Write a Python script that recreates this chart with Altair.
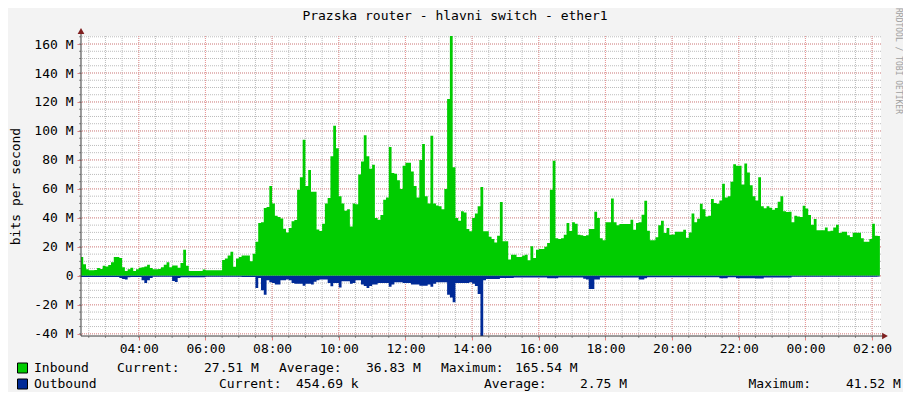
import altair as alt
import pandas as pd

FONT = "DejaVu Sans Mono"

TITLE = "Prazska router - hlavni switch - ether1"
Y_TITLE = "bits per second"
WATERMARK = "RRDTOOL / TOBI OETIKER"

# 5-minute samples starting 02:15, values in Mbit/s
START = "2024-01-01 02:15"
inbound = [
    13, 8, 4.5, 3.8, 3.8, 4, 5.4, 4.7, 7, 6.5, 7.5, 9.3,
    13, 13, 12.3, 6, 3.4, 4.5, 5.6, 3.4, 4.5, 5.6, 6, 6.5,
    7.7, 5.4, 4.5, 4.5, 4.7, 6, 7.7, 9.3, 6, 7.2, 7.2, 5.6,
    8.8, 18, 7, 3.4, 3.4, 3.4, 3.4, 3.4, 4.3, 3.8, 3.8, 3.8,
    3.8, 3.8, 3.8, 11, 12, 14, 16.7, 6.3, 12, 13, 14, 14,
    14, 10, 15.3, 23.6, 36.5, 37, 46.8, 47.5, 62, 50, 41.5, 40.6,
    39.5, 32.5, 30, 33, 37.6, 38.5, 59.5, 68, 94, 62, 73, 58,
    58, 32, 31, 36, 50, 53.7, 82.5, 103.6, 88, 55, 50, 45,
    46, 34, 50, 49.5, 70, 79, 97, 82.5, 74, 76.7, 40, 38.8,
    42, 52.5, 54, 89, 71, 70.5, 66, 60, 76, 78, 78, 72,
    62, 54, 80, 91, 55, 50, 96.7, 50, 48.5, 48, 46, 60,
    122, 165.54, 75, 40, 38, 44.5, 43.8, 32.3, 30.7, 40, 43, 48,
    61.3, 30.7, 30.7, 27, 25.4, 23, 27.7, 51, 23.8, 23.8, 11.2, 14.6,
    14.6, 13, 13, 14, 14.6, 10.7, 20.4, 12.3, 18, 18.5, 18.5, 20,
    22.7, 59.5, 79.5, 26, 25.4, 26, 28.4, 36.5, 31, 37, 36, 28.4,
    28, 27.5, 28, 32.3, 32.3, 44.3, 40, 26, 24.5, 37, 37, 53.3,
    37, 35, 35.8, 35.8, 35.8, 35.8, 38.8, 31.9, 36.5, 37, 42.2, 51.9,
    31.2, 24.5, 24.5, 26.6, 35, 38, 29.6, 33, 28.4, 28.6, 30.5, 30.5,
    30.5, 31.9, 26.3, 30, 43, 37, 39.4, 49.8, 46, 41, 41.5, 53,
    50.3, 49.8, 52, 63.6, 54, 55, 65, 77, 76, 76, 63, 77.5,
    71.4, 62.5, 55, 52, 68, 48, 46.6, 48, 47, 45.7, 46.8, 51.2,
    55, 44.5, 44, 44.3, 37, 41.5, 41, 40.6, 48.4, 46.4, 42, 35.3,
    39.2, 31.4, 31.4, 31.4, 33.3, 30.7, 31.2, 33.3, 35.3, 29.6, 30.5, 30.5,
    28, 26.8, 29.8, 29.8, 29.8, 26, 23.6, 23.6, 25.4, 36, 27.7, 27.51,
]
outbound = [
    -0.8, -0.8, -0.8, -0.8, -0.8, -0.8, -0.8, -0.8, -0.8, -0.8, -0.8, -0.8,
    -0.8, -0.8, -1.5, -2.2, -2.6, -1, -0.8, -0.8, -0.8, -0.8, -3, -5,
    -3, -1.5, -0.6, -0.6, -0.6, -0.6, -0.6, -0.6, -0.6, -3.5, -4.3, -1.5,
    -1, -1, -1, -1, -1, -1, -1, -1, -1, -0.7, -0.7, -0.7,
    -0.7, -0.7, -0.7, -0.7, -0.7, -0.7, -0.7, -0.7, -0.7, -0.7, -0.8, -0.8,
    -0.8, -0.8, -0.8, -8.4, -1.5, -10, -13, -3, -4.5, -5, -6, -6,
    -3, -3, -2.5, -3, -5, -5.4, -5.4, -5.4, -6.8, -5.4, -5.4, -6,
    -4, -3, -2.6, -2.6, -2.6, -5, -7.2, -5, -5, -8, -3.8, -3.8,
    -3.8, -5.4, -5, -3, -3, -6, -7, -8.4, -7, -6, -6, -5,
    -5, -5, -5, -7.6, -6, -4.5, -4.5, -4.5, -5, -5, -5, -6,
    -6, -6, -6.8, -6.8, -6.8, -6, -7.6, -5.4, -4.5, -4.5, -4.5, -4.5,
    -13, -15, -18.3, -5, -5, -5, -5, -5, -4.5, -5.4, -7, -12.5,
    -41.52, -3, -2.2, -2.2, -2.2, -2.2, -2.2, -1.5, -1.5, -1.5, -1.5, -1.5,
    -1.2, -1.2, -1.2, -1.2, -1.2, -1.2, -1.2, -1.2, -1.2, -1.2, -1.2, -1.2,
    -1.7, -1.7, -1.7, -1.7, -1.2, -1.2, -1.2, -1.2, -1.2, -1.2, -1.2, -1.2,
    -1.2, -2, -2.5, -9, -9, -2.6, -2.6, -1.2, -1.2, -1.2, -1.2, -1.2,
    -1.2, -1.2, -1.2, -1.2, -1.2, -1.2, -1.2, -1.2, -1.2, -2.6, -2.6, -1.7,
    -1, -1, -1, -1, -1, -1, -1, -1, -1, -1, -1, -1,
    -1, -1, -1, -1, -1, -1, -1, -1, -1, -1, -1, -1,
    -1, -1, -1.7, -1.7, -1.7, -1, -1, -1, -1.7, -1.7, -1.7, -1.7,
    -1.7, -1.7, -1.7, -1.8, -1.8, -1.8, -1.2, -1.2, -1.2, -1.2, -1.2, -1.2,
    -1.2, -1.2, -1.2, -1.2, -0.6, -0.6, -0.6, -0.6, -0.6, -0.6, -0.6, -0.6,
    -0.6, -0.6, -0.6, -0.6, -0.6, -0.6, -0.6, -0.6, -0.6, -0.6, -0.6, -0.6,
    -0.6, -0.6, -0.6, -0.6, -0.6, -0.6, -0.6, -0.6, -0.6, -0.6, -0.6, -0.45,
]

legend_in = ["Inbound", "27.51 M", "36.83 M", "165.54 M"]
legend_out = ["Outbound", "454.69 k", "2.75 M", "41.52 M"]

Y_MIN, Y_MAX = -41.52, 165.54
y_major = [-40, -20, 0, 20, 40, 60, 80, 100, 120, 140, 160]
y_minor = list(range(-40, 166, 5))
x_major = pd.date_range("2024-01-01 04:00", "2024-01-02 02:00", freq="2h")
x_minor = pd.date_range("2024-01-01 02:30", "2024-01-02 02:00", freq="30min")

times = list(pd.date_range(START, periods=len(inbound), freq="5min"))
end_time = times[-1] + pd.Timedelta(minutes=4)
df = pd.DataFrame({
    "time": times + [end_time],
    "inb": inbound + [inbound[-1]],
    "outb": outbound + [outbound[-1]],
})

x_scale = alt.Scale(domain=[alt.DateTime(year=2024, month=1, date=1, hours=2, minutes=16),
                            alt.DateTime(year=2024, month=1, date=2, hours=2, minutes=16)])
y_scale = alt.Scale(domain=[Y_MIN, Y_MAX], nice=False, zero=False)

x_axis = alt.Axis(
    values=[alt.DateTime(year=t.year, month=t.month, date=t.day, hours=t.hour, minutes=0) for t in x_major],
    format="%H:%M", title=None, domain=False, grid=False,
    tickSize=4, tickColor="#DE4F4F", tickOpacity=0.7,
    labelFont=FONT, labelFontSize=13, labelColor="black", labelPadding=2,
    labelBaseline="top", labelFlush=False, labelOverlap=False,
)
y_axis = alt.Axis(
    values=y_major, title=Y_TITLE, domain=False, grid=False,
    tickSize=4, tickColor="#DE4F4F", tickOpacity=0.7,
    labelFont=FONT, labelFontSize=13, labelColor="black", labelPadding=4,
    labelExpr="datum.value == 0 ? '0\u00a0\u00a0' : datum.value + ' M'",
    titleFont=FONT, titleFontSize=13, titleFontWeight="normal", titleColor="black",
    titleX=-65.5, titleY=150, titleAngle=-90, titleAlign="center", titleBaseline="middle",
)


def X(field):
    return alt.X(field, scale=x_scale, axis=x_axis)


def Y(field):
    return alt.Y(field, scale=y_scale, axis=y_axis)


xmin_df = pd.DataFrame({"t": list(x_minor)})
xmaj_df = pd.DataFrame({"t": list(x_major)})
ymin_df = pd.DataFrame({"v": y_minor})
ymaj_df = pd.DataFrame({"v": y_major})

MINOR = "#BDBDBD"
MAJOR = "#EB9595"
grid_minor_x = alt.Chart(xmin_df).mark_rule(color=MINOR, strokeDash=[1, 1], strokeWidth=1).encode(x=X("t:T"))
grid_minor_y = alt.Chart(ymin_df).mark_rule(color=MINOR, strokeDash=[1, 1], strokeWidth=1).encode(y=Y("v:Q"))
grid_major_x = alt.Chart(xmaj_df).mark_rule(color=MAJOR, strokeDash=[1, 1], strokeWidth=1).encode(x=X("t:T"))
grid_major_y = alt.Chart(ymaj_df).mark_rule(color=MAJOR, strokeDash=[1, 1], strokeWidth=1).encode(y=Y("v:Q"))

tick_minor_x = alt.Chart(xmin_df).mark_rule(color="#909090").encode(
    x=X("t:T"), y=alt.value(300), y2=alt.value(302))
tick_minor_y = alt.Chart(ymin_df).mark_rule(color="#909090").encode(
    y=Y("v:Q"), x=alt.value(-2), x2=alt.value(0))

area_in = alt.Chart(df).mark_area(interpolate="step-after", color="#00CC00", clip=True).encode(
    x=X("time:T"), y=Y("inb:Q"), y2=alt.datum(0),
)
area_out = alt.Chart(df).mark_area(interpolate="step-after", color="#002A97", clip=True).encode(
    x=X("time:T"), y=Y("outb:Q"), y2=alt.datum(0),
)

one = pd.DataFrame({"a": [0]})
AXIS_COLOR = "#3A3A3A"
y_axis_line = alt.Chart(one).mark_rule(color=AXIS_COLOR, strokeWidth=1).encode(
    x=alt.value(0), y=alt.value(-4), y2=alt.value(300))
x_axis_line = alt.Chart(one).mark_rule(color=AXIS_COLOR, strokeWidth=1).encode(
    x=alt.value(0), x2=alt.value(803), y=alt.value(300))
arrow_up = alt.Chart(one).mark_point(shape="triangle-up", filled=True, size=45, color="#7F1F1F", opacity=1).encode(
    x=alt.value(0), y=alt.value(-5))
arrow_right = alt.Chart(one).mark_point(shape="triangle-right", filled=True, size=45, color="#7F1F1F", opacity=1).encode(
    x=alt.value(804), y=alt.value(300))


def label(text, x, y, align="left", size=13, color="black", angle=0):
    return alt.Chart(one).mark_text(
        align=align, baseline="middle", font=FONT, fontSize=size, color=color, angle=angle
    ).encode(x=alt.value(x), y=alt.value(y), text=alt.value(text))


def box(color, y0):
    return alt.Chart(one).mark_rect(color=color, stroke="black", strokeWidth=1).encode(
        x=alt.value(-63.5), x2=alt.value(-53.5), y=alt.value(y0), y2=alt.value(y0 + 10))


texts = [
    label(TITLE, 374, -20.5, align="center"),
    label(WATERMARK, 816.5, 25, align="center", size=8, color="#A0A0A0", angle=90),
    box("#00CC00", 327), box("#002A97", 343),
    label(legend_in[0], -47, 332), label("Current:", 36, 332), label(legend_in[1], 123, 332),
    label("Average:", 198, 332), label(legend_in[2], 285, 332),
    label("Maximum:", 360, 332), label(legend_in[3], 434, 332),
    label(legend_out[0], -47, 348), label("Current:", 138, 348), label(legend_out[1], 215, 348),
    label("Average:", 403, 348), label(legend_out[2], 499, 348),
    label("Maximum:", 667.5, 348), label(legend_out[3], 765, 348),
]

chart = alt.layer(
    grid_minor_x, grid_minor_y, grid_major_x, grid_major_y,
    area_in, area_out,
    tick_minor_x, tick_minor_y,
    y_axis_line, x_axis_line, arrow_up, arrow_right,
    *texts,
).properties(
    width=800, height=300,
    autosize=alt.AutoSizeParams(type="none"),
    padding={"left": 73, "top": 28, "right": 22, "bottom": 56},
    background="#F3F3F3",
).configure_view(stroke=None, fill="white")

chart.save("out.html", embed_options={"renderer": "svg", "actions": False})
